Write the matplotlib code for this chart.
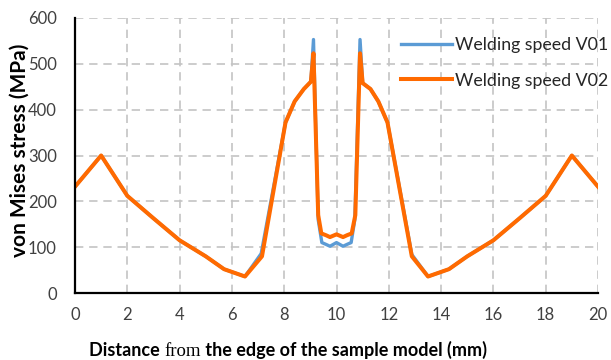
import matplotlib
matplotlib.use("Agg")
import matplotlib.pyplot as plt
from matplotlib.offsetbox import TextArea, HPacker, AnnotationBbox

# ---- data ----
x_v01 = [0, 1, 2, 3, 4, 5, 5.7, 6.5, 7.12, 8.05, 8.4, 8.75, 9.02, 9.12,
         9.3, 9.44, 9.6, 9.75, 10.0, 10.25, 10.4, 10.56, 10.7, 10.9,
         11.0, 11.3, 11.6, 11.95, 12.88, 13.5, 14.3, 15, 16, 17, 18, 19, 20]
v01 = [232, 300, 212, 163, 115, 80, 52, 36, 86, 372, 418, 445, 461, 553,
       160, 110, 106, 102, 110, 102, 106, 110, 160, 553,
       458, 445, 418, 372, 84, 36, 52, 80, 115, 163, 212, 300, 232]

x_v02 = [0, 1, 2, 3, 4, 5, 5.7, 6.5, 7.15, 8.05, 8.4, 8.75, 9.02, 9.12,
         9.3, 9.42, 9.6, 9.75, 10.0, 10.25, 10.4, 10.58, 10.72, 10.9,
         11.0, 11.3, 11.6, 11.95, 12.88, 13.5, 14.3, 15, 16, 17, 18, 19, 20]
v02 = [232, 300, 212, 163, 115, 80, 52, 36, 80, 372, 418, 445, 461, 523,
       170, 130, 126, 122, 128, 122, 126, 130, 170, 523,
       458, 445, 418, 372, 80, 36, 52, 80, 115, 163, 212, 300, 232]

series_names = ["Welding speed V01", "Welding speed V02"]
x_ticks = list(range(0, 21, 2))
y_ticks = list(range(0, 601, 100))

blue = "#5B9BD5"
orange = "#FF6A00"
grid_col = "#C4C4C4"
sans = "Lato"

fig = plt.figure(figsize=(6.11, 3.60), dpi=100)
ax = fig.add_axes([75 / 611, 1 - 293 / 360, (598 - 75) / 611, (293 - 18) / 360])

ax.plot(x_v01, v01, color=blue, lw=2.4, label=series_names[0], solid_joinstyle="round", zorder=3)
ax.plot(x_v02, v02, color=orange, lw=2.9, label=series_names[1], solid_joinstyle="round", zorder=4)

ax.set_xlim(0, 20)
ax.set_ylim(0, 600)
ax.set_xticks(x_ticks)
ax.set_yticks(y_ticks)
ax.set_xticklabels([str(t) for t in x_ticks], fontfamily=sans, fontsize=12, color="#404040")
ax.set_yticklabels([str(t) for t in y_ticks], fontfamily=sans, fontsize=12, color="#404040")
ax.tick_params(length=0)
ax.tick_params(axis="x", pad=10)
ax.tick_params(axis="y", pad=13)

ax.grid(True, color=grid_col, lw=1.2, ls=(0, (5, 3.5)), zorder=0)
ax.set_axisbelow(True)
for s in ["top", "right"]:
    ax.spines[s].set_visible(False)
for s in ["left", "bottom"]:
    ax.spines[s].set_color("black")
    ax.spines[s].set_linewidth(1.6)
    ax.spines[s].set_zorder(5)

leg = ax.legend(loc="upper left", bbox_to_anchor=(401 / 611, 1 - 37 / 360),
                bbox_transform=fig.transFigure, frameon=False,
                prop={"family": sans, "size": 12.8}, handlelength=2.85,
                handletextpad=0.2, labelspacing=1.1, borderaxespad=0, borderpad=0)
for t in leg.get_texts():
    t.set_color("#262626")

# y label
fig.text(20 / 611, 1 - 150 / 360, "von Mises stress (MPa)", rotation=90,
         ha="center", va="center", fontfamily=sans, fontweight="bold", fontsize=15)

# x label with serif "from"
parts = [
    TextArea("Distance ", textprops=dict(family=sans, weight="bold", size=13)),
    TextArea("from", textprops=dict(family="Liberation Serif", size=13.5)),
    TextArea(" the edge of the sample model (mm)", textprops=dict(family=sans, weight="bold", size=13)),
]
pack = HPacker(children=parts, align="baseline", pad=0, sep=0)
ab = AnnotationBbox(pack, (288 / 611, 1 - 350 / 360), xycoords="figure fraction",
                    frameon=False, box_alignment=(0.5, 0.5))
fig.add_artist(ab)

fig.savefig("out.png", dpi=100)
